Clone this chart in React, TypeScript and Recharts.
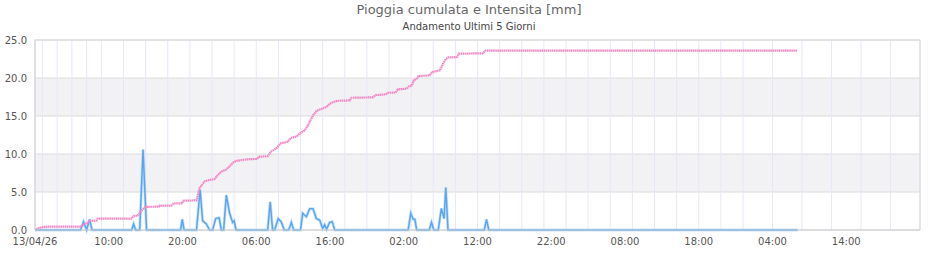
import React from "react";
import {
  LineChart,
  Line,
  XAxis,
  YAxis,
  CartesianGrid,
  ReferenceLine,
} from "recharts";

// hours since 13/04/26 00:00
const cumHours = [
  0.07, 0.61, 1.7, 6.3, 6.58, 7.12, 7.4, 8.35, 8.5, 13.1, 13.37, 13.9, 14.3, 14.7, 15.0,
  16.8, 16.9, 18.5, 18.8, 19.9, 20.15, 21.9, 22.3, 22.7, 23.0, 23.68, 24.36, 24.76, 25.3,
  25.85, 26.4, 26.9, 27.3, 28.8, 30.05, 30.46, 31.55, 31.95, 32.5, 32.9, 33.3, 34.26,
  34.67, 35.5, 35.9, 36.57, 36.97, 37.38, 37.79, 38.2, 38.9, 39.55, 39.95, 40.5, 41.0,
  42.67, 42.9, 45.8, 46.2, 47.55, 47.83, 48.9, 49.2, 50.4, 50.7, 51.1, 51.36, 51.76, 52.0,
  53.5, 53.9, 54.9, 55.3, 55.7, 56.0, 57.2, 57.5, 60.7, 61.1, 103.4,
];
const cumValues = [
  0.1, 0.3, 0.45, 0.45, 0.8, 0.9, 1.2, 1.25, 1.5, 1.5, 1.85, 1.9, 2.4, 2.8, 3.05,
  3.07, 3.2, 3.2, 3.5, 3.5, 3.85, 3.9, 5.5, 6.0, 6.4, 6.6, 6.7, 7.2, 7.7,
  7.9, 8.4, 8.9, 9.1, 9.3, 9.35, 9.65, 9.7, 10.3, 10.6, 10.9, 11.4, 11.6,
  12.1, 12.3, 12.7, 13.1, 13.7, 14.5, 15.2, 15.7, 15.95, 16.2, 16.6, 16.85, 17.0,
  17.05, 17.4, 17.45, 17.75, 17.85, 18.05, 18.1, 18.5, 18.6, 18.9, 19.0, 19.7, 19.9, 20.25,
  20.35, 20.8, 21.0, 21.8, 22.5, 22.7, 22.75, 23.2, 23.25, 23.6, 23.6,
];

const intHours = [
  0, 6.17, 6.58, 7.0, 7.4, 7.73, 13.1, 13.37, 13.64, 14.2, 14.65, 15.13, 19.74, 19.97, 20.22,
  21.9, 22.39, 22.73, 23.23, 23.68, 24.08, 24.5, 24.97, 25.26, 25.58, 25.94, 26.39, 26.8,
  27.0, 27.27, 31.55, 31.89, 32.22, 32.5, 32.97, 33.38, 33.79, 34.4, 34.76, 35.07, 36.0,
  36.3, 36.8, 37.25, 37.7, 38.15, 38.6, 39.0, 39.27, 39.54, 39.95, 40.3, 40.64, 50.6, 50.95,
  51.29, 51.5, 51.76, 53.46, 53.76, 54.07, 54.68, 55.1, 55.47, 55.7, 56.0, 60.92, 61.22,
  61.53, 103.4,
];
const intValues = [
  0, 0, 1.1, 0, 1.4, 0, 0, 0.8, 0, 0, 10.6, 0, 0, 1.4, 0,
  0, 5.3, 1.2, 0.8, 0, 0, 1.5, 1.6, 0, 0, 4.6, 2.2, 1.0,
  1.2, 0, 0, 3.7, 0, 0, 1.5, 1.1, 0, 0, 1.0, 0, 0,
  2.2, 1.75, 2.8, 2.8, 1.5, 1.3, 0.2, 0.7, 0.1, 1.0, 1.1, 0, 0, 2.2,
  1.4, 1.4, 0, 0, 1.0, 0, 0, 2.85, 1.5, 5.6, 0, 0, 1.4,
  0, 0,
];

const xTickHours = [0, 10, 20, 30, 40, 50, 60, 70, 80, 90, 100, 110];
const xTickLabels = [
  "13/04/26", "10:00", "20:00", "06:00", "16:00", "02:00",
  "12:00", "22:00", "08:00", "18:00", "04:00", "14:00",
];
const yTicks = [0, 5, 10, 15, 20, 25];
const gridHours = Array.from({ length: 121 }, (_, i) => i);

const cumData = cumHours.map((h, i) => ({ h, v: cumValues[i] }));
const intData = intHours.map((h, i) => ({ h, v: intValues[i] }));

const font = "'DejaVu Sans', sans-serif";

export default function App() {
  return (
    <div style={{ position: "absolute", left: 0, top: 0, width: 940, height: 260, background: "#fff", fontFamily: font }}>
      <div style={{ position: "absolute", left: 0, top: 2, width: 938, textAlign: "center", fontSize: 13, color: "#666" }}>
        Pioggia cumulata e Intensita [mm]
      </div>
      <div style={{ position: "absolute", left: 0, top: 21, width: 938, textAlign: "center", fontSize: 10, color: "#444" }}>
        Andamento Ultimi 5 Giorni
      </div>
      <div style={{ position: "absolute", left: 0, top: 0 }}>
        <LineChart width={940} height={260} margin={{ top: 40, right: 20, bottom: 0, left: 0 }}>
          <CartesianGrid
            vertical={false}
            stroke="#dcdcdc"
            horizontalFill={["#ffffff", "#f2f2f4"]}
            fillOpacity={1}
          />
          <CartesianGrid xAxisId="grid" horizontal={false} stroke="#e8e6f8" />
          <XAxis
            xAxisId="grid"
            type="number"
            dataKey="h"
            domain={[0, 120]}
            ticks={gridHours}
            hide
            allowDataOverflow
          />
          <XAxis
            type="number"
            dataKey="h"
            domain={[0, 120]}
            ticks={xTickHours}
            tickFormatter={(v: number) => xTickLabels[xTickHours.indexOf(v)] ?? ""}
            height={30}
            stroke="#cccccc"
            tickLine={false}
            tick={{ fill: "#555", fontSize: 10, fontFamily: font }}
            interval={0}
            allowDataOverflow
          />
          <YAxis
            type="number"
            domain={[0, 25]}
            ticks={yTicks}
            width={35}
            stroke="#cccccc"
            tickLine={false}
            tickFormatter={(v: number) => v.toFixed(1)}
            tick={{ fill: "#555", fontSize: 10, fontFamily: font }}
            interval={0}
          />
          <ReferenceLine y={25} stroke="#d8d8d8" />
          <ReferenceLine x={120} stroke="#d8d8d8" />
          <Line
            data={intData}
            dataKey="v"
            type="linear"
            stroke="#b3d6f8"
            strokeWidth={3}
            strokeOpacity={0.7}
            dot={false}
            activeDot={false}
            isAnimationActive={false}
          />
          <Line
            data={intData}
            dataKey="v"
            type="linear"
            stroke="#5aa6ef"
            strokeWidth={1.5}
            dot={false}
            activeDot={false}
            isAnimationActive={false}
          />
          <Line
            data={cumData}
            dataKey="v"
            type="linear"
            stroke="#f287c5"
            strokeWidth={2.2}
            strokeDasharray="1.6 0.5"
            dot={false}
            activeDot={false}
            isAnimationActive={false}
          />
        </LineChart>
      </div>
    </div>
  );
}
